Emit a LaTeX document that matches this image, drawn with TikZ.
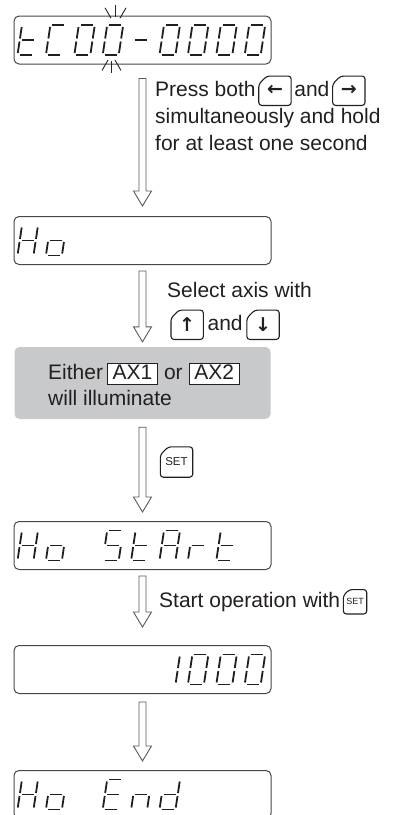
\documentclass[tikz,border=0pt]{standalone}
\usepackage{fontspec}
\setmainfont{Liberation Sans}
\newfontfamily\keyglyph{DejaVu Sans}
\usetikzlibrary{positioning}

\definecolor{inkblack}{HTML}{231F20}
\definecolor{panelgray}{HTML}{C8C9CA}

% seven segment paths (local cell 16 x 30)
\expandafter\def\csname segpatha\endcsname{(2,30)--(14,30)}
\expandafter\def\csname segpathb\endcsname{(16,28)--(16,16.5)}
\expandafter\def\csname segpathc\endcsname{(16,13.5)--(16,2)}
\expandafter\def\csname segpathd\endcsname{(2,0)--(14,0)}
\expandafter\def\csname segpathe\endcsname{(0,2)--(0,13.5)}
\expandafter\def\csname segpathf\endcsname{(0,16.5)--(0,28)}
\expandafter\def\csname segpathg\endcsname{(2,15)--(14,15)}

% characters
\expandafter\def\csname segmap0\endcsname{a,b,c,d,e,f}
\expandafter\def\csname segmap1\endcsname{b,c}
\expandafter\def\csname segmap-\endcsname{g}
\expandafter\def\csname segmapt\endcsname{d,e,f,g}
\expandafter\def\csname segmapC\endcsname{a,d,e,f}
\expandafter\def\csname segmapH\endcsname{b,c,e,f,g}
\expandafter\def\csname segmapo\endcsname{c,d,e,g}
\expandafter\def\csname segmapS\endcsname{a,c,d,f,g}
\expandafter\def\csname segmapA\endcsname{a,b,c,e,f,g}
\expandafter\def\csname segmapr\endcsname{e,g}
\expandafter\def\csname segmapE\endcsname{a,d,e,f,g}
\expandafter\def\csname segmapn\endcsname{c,e,g}
\expandafter\def\csname segmapd\endcsname{b,c,d,e,g}

\newcommand\segchars[2]{%
  \foreach \dpos/\dch in {#2}{
    \begin{scope}[shift={([xshift=4pt+28.4pt*\dpos,yshift=-15pt]#1.west)},xslant=0.15]
      \edef\seglist{\csname segmap\dch\endcsname}
      \foreach \sg in \seglist {\edef\segp{\csname segpath\sg\endcsname}\draw[segline] \segp;}
    \end{scope}
  }}

\newcommand\keyframe[2][8pt]{%
  \draw[keyline] ([xshift=#1]#2.north west) -- (#2.north east) -- (#2.south east)
    -- (#2.south west) -- ([yshift=-#1]#2.north west) -- cycle;}

\newcommand\flowarrow[4]{%
  \draw[flowline] ([xshift=-3.5pt,yshift=-#3]#1.south) -- ([xshift=-3.5pt,yshift=#4+15pt]#2.north)
    -- ([xshift=-9pt,yshift=#4+15pt]#2.north) -- ([yshift=#4]#2.north)
    -- ([xshift=9pt,yshift=#4+15pt]#2.north) -- ([xshift=3.5pt,yshift=#4+15pt]#2.north)
    -- ([xshift=3.5pt,yshift=-#3]#1.south) -- cycle;}

\tikzset{
  disp/.style={draw=black!72,line width=1pt,rounded corners=5pt,minimum width=257pt,minimum height=48pt,inner sep=0pt},
  panel/.style={fill=panelgray,rounded corners=5pt,minimum width=256pt,minimum height=72pt,inner sep=0pt},
  segline/.style={line width=1.8pt,draw=black!88},
  ray/.style={line width=0.9pt,draw=black!85},
  txt/.style={inner sep=0pt,text=inkblack,font=\fontsize{21}{25}\selectfont,text height=15pt,text depth=4.5pt},
  lamp/.style={txt,draw=inkblack,line width=0.9pt,fill=white,inner xsep=5pt,inner ysep=0.5pt},
  key/.style={minimum width=32pt,minimum height=29pt,inner sep=0pt,text=inkblack,font=\keyglyph\bfseries\fontsize{19}{19}\selectfont},
  setkey/.style={key,font=\fontsize{11.5}{11.5}\selectfont},
  keyline/.style={draw=inkblack,line width=1.1pt,rounded corners=3pt},
  flowline/.style={draw=black!65,line width=0.9pt,fill=white}
}

\begin{document}
\begin{tikzpicture}[x=1pt,y=1pt]
  \useasboundingbox (0,0) rectangle (394,-815);
  \clip (0,0) rectangle (394,-815);

  % displays
  \node[disp] (d1) at (142.5,-40) {};
  \node[disp] (d2) at (142.5,-240.5) {};
  \node[panel] (p1) at (142.5,-383) {};
  \node[disp] (d3) at (142.5,-545.5) {};
  \node[disp] (d4) at (142.5,-669.5) {};
  \node[disp] (d5) at (142.5,-794.5) {};

  \segchars{d1}{0/t,1/C,2/0,3/0,4/-,5/0,6/0,7/0,8/0}
  \segchars{d2}{0/H,1/o}
  \segchars{d3}{0/H,1/o,3/S,4/t,5/A,6/r,7/t}
  \segchars{d4}{5/1,6/0,7/0,8/0}
  \segchars{d5}{0/H,1/o,3/E,4/n,5/d}

  % blinking digit
  \coordinate (blinktop) at ([xshift=102pt,yshift=14pt]d1.west);
  \coordinate (blinkbot) at ([xshift=98pt,yshift=-14pt]d1.west);
  \foreach \ang in {60,90,120}
    \draw[ray] ([shift={(\ang:9pt)}]blinktop) -- ([shift={(\ang:21pt)}]blinktop);
  \foreach \ang in {-60,-90,-120}
    \draw[ray] ([shift={(\ang:7pt)}]blinkbot) -- ([shift={(\ang:19pt)}]blinkbot);

  % arrows
  \flowarrow{d1}{d2}{14pt}{10pt}
  \flowarrow{d2}{p1}{6pt}{5pt}
  \flowarrow{p1}{d3}{8pt}{9pt}
  \flowarrow{d3}{d4}{6pt}{18pt}
  \flowarrow{d4}{d5}{8pt}{9pt}

  % step 1
  \node[txt,anchor=base west] (pr1) at (155,-96) {Press both};
  \node[key,right=3pt of pr1] (kl) {←};
  \node[txt,right=3pt of kl] (pr2) {and};
  \node[key,right=3pt of pr2] (kr) {→};
  \node[txt,anchor=base west] (pr3) at (155,-123) {simultaneously and hold};
  \node[txt,anchor=base west] (pr4) at (155,-150) {for at least one second};
  \keyframe{kl}
  \keyframe{kr}

  % step 2
  \node[txt,anchor=base west] (se1) at (167,-297) {Select axis with};
  \node[key,anchor=west] (ku) at (171,-324.75) {↑};
  \node[txt,right=4pt of ku] (se2) {and};
  \node[key,right=4pt of se2] (kd) {↓};
  \keyframe{ku}
  \keyframe{kd}

  % panel text
  \node[txt,anchor=base west] (ei1) at (48,-379) {Either};
  \node[lamp,right=4pt of ei1] (ax1) {AX1};
  \node[txt,right=6pt of ax1] (ei2) {or};
  \node[lamp,right=6pt of ei2] (ax2) {AX2};
  \node[txt,anchor=base west] (ei3) at (48,-405) {will illuminate};

  % set keys
  \node[setkey,minimum width=32pt,minimum height=30pt] (ks1) at (176.5,-462) {SET};
  \keyframe{ks1}
  \node[txt,anchor=base west] (so1) at (159,-607) {Start operation with};
  \node[setkey,minimum width=23pt,minimum height=24pt,font=\fontsize{9}{9}\selectfont,right=3pt of so1] (ks2) {SET};
  \keyframe[6pt]{ks2}
\end{tikzpicture}
\end{document}
